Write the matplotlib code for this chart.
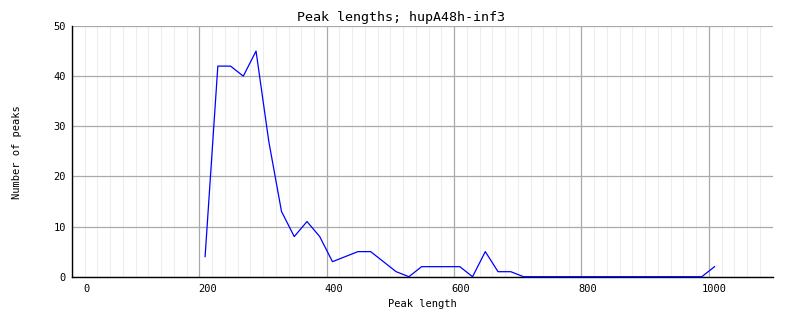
import numpy as np
import matplotlib
matplotlib.use("Agg")
import matplotlib.pyplot as plt
from matplotlib.ticker import MultipleLocator
from matplotlib.transforms import ScaledTranslation

# peak lengths (bin positions) and counts
lengths = np.arange(209, 1010, 20)
counts = [4, 42, 42, 40, 45, 27, 13, 8, 11, 8,
          3, 4, 5, 5, 3, 1, 0, 2, 2, 2,
          2, 0, 5, 1, 1, 0, 0, 0, 0, 0,
          0, 0, 0, 0, 0, 0, 0, 0, 0, 0,
          2]
x_ticks = [0, 200, 400, 600, 800, 1000]
y_ticks = [0, 10, 20, 30, 40, 50]
title = "Peak lengths; hupA48h-inf3"


def main():
    plt.rcParams["font.family"] = "DejaVu Sans Mono"

    fig = plt.figure(figsize=(8.02, 3.28), dpi=100)
    ax = fig.add_axes([72 / 802, 1 - 276.7 / 328, 700.5 / 802, 250.7 / 328])

    ax.plot(lengths, counts, color="#0000ff", lw=0.9, zorder=5, clip_on=False)

    ax.set_xlim(0, 1100)
    ax.set_ylim(0, 50)
    ax.set_xticks(x_ticks)
    ax.set_yticks(y_ticks)
    ax.xaxis.set_minor_locator(MultipleLocator(20))

    ax.grid(True, which="minor", axis="x", color="#eeeeee", lw=0.8, zorder=0)
    ax.grid(True, which="major", axis="both", color="#aaaaaa", lw=0.9, zorder=1)
    ax.set_axisbelow(True)

    for s in ["top", "right"]:
        ax.spines[s].set_visible(False)
    for s in ["left", "bottom"]:
        ax.spines[s].set_color("black")
        ax.spines[s].set_linewidth(1.0)
        ax.spines[s].set_zorder(3)

    ax.tick_params(which="both", length=0)
    ax.tick_params(axis="x", pad=5.4, labelsize=7.5)
    ax.tick_params(axis="y", pad=4.3, labelsize=7.5)

    # x labels are shifted right of their ticks, like the original library (px)
    shifts = [14, 8, 7, 6.5, 6, 5]
    for lbl, dx in zip(ax.get_xticklabels(), shifts):
        lbl.set_transform(lbl.get_transform() + ScaledTranslation(dx / 100, 0, fig.dpi_scale_trans))

    ax.set_xlabel("Peak length", fontsize=7.5, labelpad=3.2)
    ax.set_ylabel("Number of peaks", fontsize=7.5)
    ax.yaxis.set_label_coords(17.5 / 802, 1 - 152 / 328, transform=fig.transFigure)
    ax.yaxis.label.set_va("center")

    fig.text(0.5, 1 - 17 / 328, title, ha="center", va="center", fontsize=9.6)

    fig.savefig("out.png", dpi=100)


if __name__ == "__main__":
    main()
